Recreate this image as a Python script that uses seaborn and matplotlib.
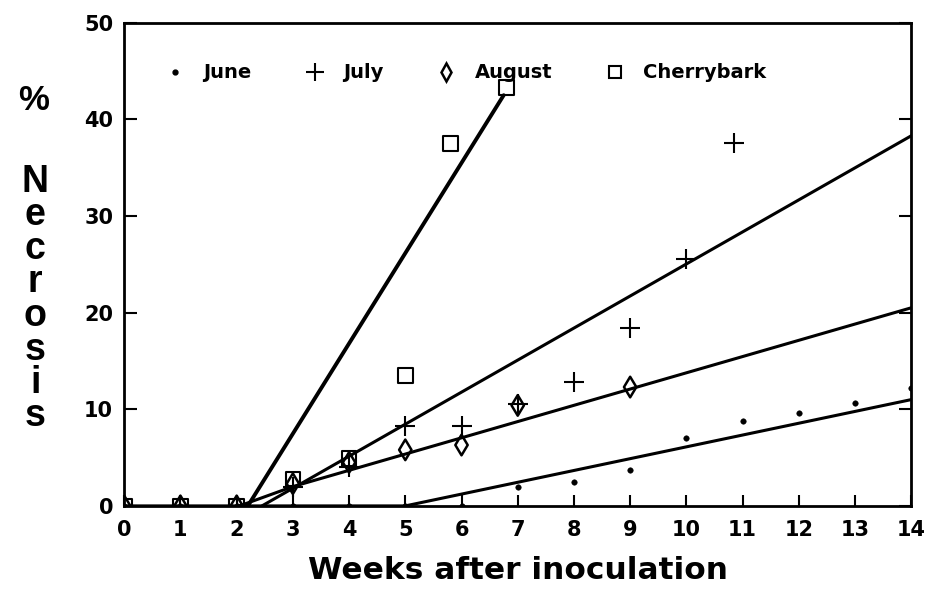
import numpy as np
import pandas as pd
import matplotlib
matplotlib.use("Agg")
import matplotlib.pyplot as plt
from matplotlib.lines import Line2D
import seaborn as sns

# data (weeks after inoculation, % necrosis)
june_wk = [0, 1, 2, 3, 4, 5, 6, 7, 8, 9, 10, 11, 12, 13, 14]
june_pct = [0, 0, 0, 0, 0, 0, 0, 2.0, 2.5, 3.7, 7.0, 8.8, 9.6, 10.7, 12.2]

july_wk = [0, 1, 2, 3, 4, 5, 6, 7, 8, 9, 10, 10.85]
july_pct = [0, 0, 0, 2.0, 4.0, 8.3, 8.3, 10.5, 12.8, 18.4, 25.5, 37.6]

aug_wk = [0, 1, 2, 3, 4, 5, 6, 7, 9]
aug_pct = [0, 0, 0, 2.3, 4.5, 5.8, 6.3, 10.4, 12.3]

cherry_wk = [0, 1, 2, 3, 4, 5, 5.8, 6.8]
cherry_pct = [0, 0, 0, 2.8, 4.9, 13.5, 37.5, 43.3]

# fitted lines (start on the x axis, end at right edge / last point)
june_fit_x = [0, 5, 14]
june_fit_y = [0, 0, 11.0]
july_fit_x = [2.45, 14]
july_fit_y = [0, 38.3]
aug_fit_x = [2.05, 3, 14]
aug_fit_y = [0, 2.0, 20.5]
cherry_fit_x = [2.2, 6.75]
cherry_fit_y = [0, 42.5]

labels = ["June", "July", "August", "Cherrybark"]

sns.set_style("ticks")
plt.rcParams['font.family'] = ['Liberation Sans', 'DejaVu Sans']
plt.rcParams['text.color'] = 'black'
plt.rcParams['xtick.color'] = 'black'
plt.rcParams['ytick.color'] = 'black'
plt.rcParams['axes.labelcolor'] = 'black'

fig, ax = plt.subplots(figsize=(9.27, 5.98), dpi=100)
fig.subplots_adjust(left=0.134, right=0.983, bottom=0.154, top=0.962)

# fit lines
for fx, fy, lw in [(june_fit_x, june_fit_y, 2.2), (july_fit_x, july_fit_y, 2.2),
                   (aug_fit_x, aug_fit_y, 2.2), (cherry_fit_x, cherry_fit_y, 2.8)]:
    sns.lineplot(x=fx, y=fy, ax=ax, color="black", lw=lw, sort=False, zorder=2)

# points
sns.scatterplot(x=june_wk, y=june_pct, ax=ax, marker="o", s=16, color="black",
                edgecolor="black", zorder=3)
sns.scatterplot(x=july_wk, y=july_pct, ax=ax, marker="+", s=220, color="black",
                linewidth=1.5, zorder=3)
sns.scatterplot(x=aug_wk, y=aug_pct, ax=ax, marker="d", s=110, facecolor="none",
                edgecolor="black", linewidth=1.8, zorder=3)
sns.scatterplot(x=cherry_wk, y=cherry_pct, ax=ax, marker="s", s=110, facecolor="none",
                edgecolor="black", linewidth=1.5, zorder=3)

ax.set_xlim(0, 14)
ax.set_ylim(0, 50)
ax.set_xticks(range(0, 15))
ax.set_yticks([0, 10, 20, 30, 40, 50])
for s in ax.spines.values():
    s.set_linewidth(2)
    s.set_color("black")
tick_font = {"family": "DejaVu Sans", "weight": "bold", "size": 15}
ax.tick_params(axis="x", direction="in", length=8, width=1.5, pad=10)
ax.tick_params(axis="y", direction="in", length=9, width=1.5, pad=8, right=True)
ax.set_xticklabels([str(w) for w in range(0, 15)], fontdict=tick_font)
ax.set_yticklabels(["0", "10", "20", "30", "40", "50"], fontdict=tick_font)

ax.set_xlabel("Weeks after inoculation", family="DejaVu Sans", fontweight="bold",
              fontsize=22.5, labelpad=12)
ax.set_ylabel("")

# stacked y label
fig.text(0.036, 1 - 100 / 598, "%", fontsize=25, fontweight="bold",
         ha="center", va="center")
for i, ch in enumerate("Necrosis"):
    fig.text(0.038, 1 - (182 + i * 33.5) / 598, ch, fontsize=27,
             fontweight="bold", ha="center", va="center")

handles = [
    Line2D([], [], ls="none", marker="o", ms=3.5, color="black"),
    Line2D([], [], ls="none", marker="+", ms=13, mew=1.5, color="black"),
    Line2D([], [], ls="none", marker="d", ms=9, mfc="none", mec="black", mew=1.8),
    Line2D([], [], ls="none", marker="s", ms=9, mfc="none", mec="black", mew=1.5),
]
ax.legend(handles, labels, ncol=4, frameon=False, loc="center left",
          bbox_to_anchor=(0.052, 0.896), borderpad=0, borderaxespad=0,
          prop={"family": "DejaVu Sans", "weight": "bold", "size": 14},
          columnspacing=2.75, handletextpad=0.95, handlelength=1.0)

fig.savefig("out.png", dpi=100)
